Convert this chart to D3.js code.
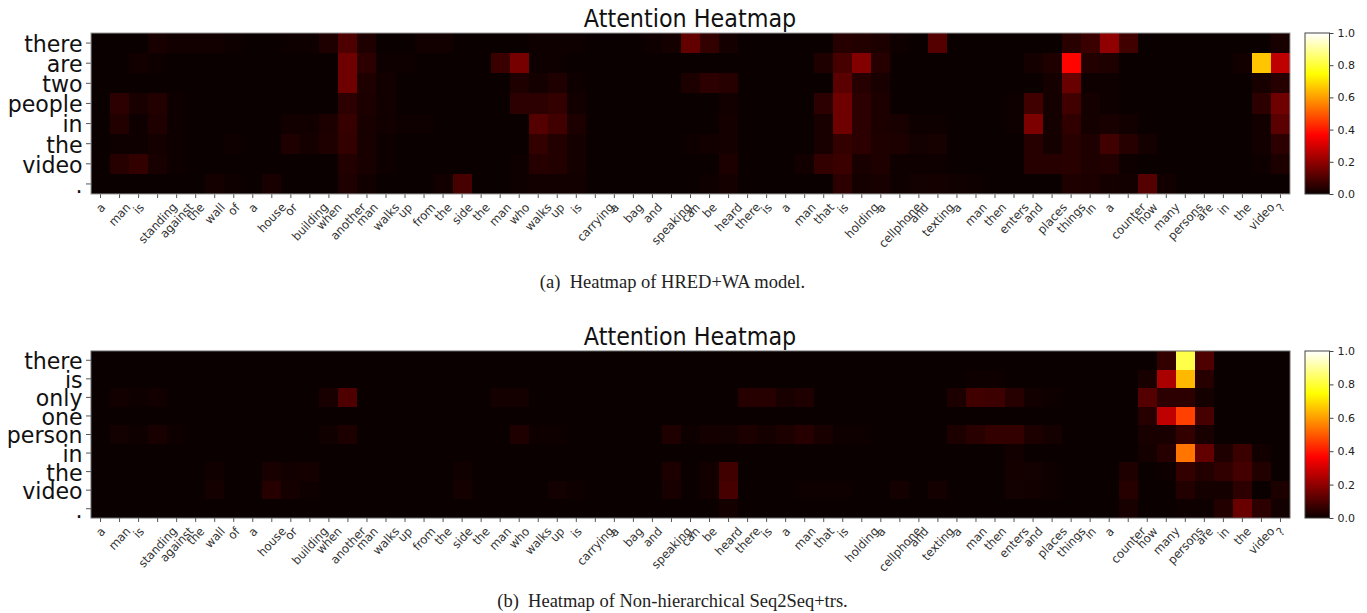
<!DOCTYPE html>
<html>
<head>
<meta charset="utf-8">
<script src="https://d3js.org/d3.v7.min.js"></script>
<style>
body { margin: 0; background: #fff; }
text { font-family: "DejaVu Sans", sans-serif; }
</style>
</head>
<body>
<script>
//Input tokens along the x axis (both panels)
var tokens = ["a","man","is","standing","against","the","wall","of","a","house","or","building","when","another","man","walks","up","from","the","side","the","man","who","walks","up","is","carrying","a","bag","and","speaking","can","be","heard","there","is","a","man","that","is","holding","a","cellphone","and","texting","a","man","then","enters","and","places","things","in","a","counter","how","many","persons","are","in","the","video","?"];

//Output words along the y axis
var wordsA = ["there","are","two","people","in","the","video","."];
var wordsB = ["there","is","only","one","person","in","the","video","."];

var colorTicks = [0, 0.2, 0.4, 0.6, 0.8, 1];

//Attention values, one row per output word
var heatA = [
 [0,0,0,.02,.01,.01,.01,.005,0,0, .005,.005,.03,.1,.03,0,0,.01,.01,0, 0,0,0,.005,.005,.005,0,0,0,.005, .015,.13,.06,.015,0,0,0,0,0,.04, .035,.025,.005,0,.11,0,0,0,0,0, 0,.045,.07,.2,.08,0,0,0,0,0, 0,0,.02],
 [0,0,.01,.005,0,0,0,0,0,0, 0,0,0,.15,.05,.005,.005,0,0,0, 0,.07,.16,.005,.005,0,0,0,0,0, 0,0,0,0,0,0,0,0,.03,.09, .18,.04,0,0,0,0,0,0,0,.015, .03,.37,.035,.03,0,0,0,0,0,0, .01,.66,.27],
 [0,0,0,0,0,0,0,0,0,0, 0,0,0,.15,.03,.01,0,0,0,0, 0,0,.03,.015,.03,.005,0,0,0,0, 0,.025,.05,.04,0,0,0,0,0,.12, .04,.02,0,0,0,0,0,0,0,0, .015,.14,.005,.005,0,0,0,0,0,0, 0,.02,.04],
 [0,.05,.02,.035,.005,0,0,0,0,0, 0,0,0,.05,.025,.01,0,0,0,0, 0,0,.05,.05,.06,.01,0,0,0,0, 0,0,0,.01,0,0,0,0,.05,.15, .05,.025,0,0,0,0,0,0,.005,.08, .015,.08,.015,.005,0,0,0,0,0,0, 0,.05,.15],
 [0,.035,.005,.03,.005,0,0,0,0,0, .01,.01,.025,.065,.02,.01,.005,.005,0,0, 0,0,0,.11,.08,.025,0,0,0,0, 0,0,0,.015,0,0,0,0,.02,.15, .05,.025,.02,.006,.006,0,0,0,.005,.17, .015,.055,.015,.02,.01,0,0,0,0,0, 0,.01,.12],
 [0,.005,.005,.015,.005,0,0,.005,0,0, .03,.015,.03,.06,.02,.005,0,0,0,0, 0,0,0,.06,.035,.015,0,0,0,0, 0,.005,.01,.015,0,0,0,0,.02,.06, .05,.03,.025,.012,.018,0,0,0,0,.04, .015,.045,.03,.08,.04,.015,0,0,0,0, 0,.01,.05],
 [0,.04,.06,.02,.005,0,0,0,0,0, 0,0,0,.035,.02,.005,0,0,0,0, 0,0,.005,.04,.035,.015,0,0,0,0, 0,0,0,.025,0,0,0,.01,.06,.07, .02,.03,.005,.005,.005,0,0,0,0,.04, .04,.045,.03,.035,.005,0,0,0,0,0, 0,.005,.025],
 [0,0,0,0,0,0,.015,.005,0,.02, 0,0,0,.03,.01,0,0,0,.01,.09, 0,0,.005,.01,.01,.01,0,0,0,0, 0,0,.005,.015,0,0,0,0,0,.05, .015,.02,.005,.012,.015,.008,.005,0,0,0, 0,.03,.025,.015,.01,.11,.01,0,0,0, 0,0,0]
];

var heatB = [
 [0,0,0,0,0,0,0,0,0,0, 0,0,0,0,0,0,0,0,0,0, 0,0,0,0,0,0,0,0,0,0, 0,0,0,0,0,0,0,0,0,0, 0,0,0,0,0,0,0,0,0,0, 0,0,0,0,0,0,.06,.82,.1,0, 0,0,0],
 [0,0,0,0,0,0,0,0,0,0, 0,0,0,0,0,0,0,0,0,0, 0,0,0,0,0,0,0,0,0,0, 0,0,0,0,0,0,0,0,0,0, 0,0,0,0,0,0,.005,.005,0,0, 0,0,0,0,0,.02,.24,.64,.04,0, 0,0,0],
 [0,.01,.005,.01,0,0,0,0,0,0, 0,0,.02,.1,0,0,0,0,0,0, 0,.015,.015,0,0,0,0,0,0,0, 0,0,0,0,.04,.04,.02,.03,0,0, 0,0,0,0,0,.025,.08,.075,.04,.01, .005,0,0,0,0,.11,.05,.05,.015,0, 0,0,0],
 [0,0,0,0,0,0,0,0,0,0, 0,0,0,0,0,0,0,0,0,0, 0,0,0,0,0,0,0,0,0,0, 0,0,0,0,0,0,0,0,0,0, 0,0,0,0,0,0,0,0,0,0, 0,0,0,0,0,.04,.27,.46,.09,0, 0,0,0],
 [0,.012,.005,.02,.005,0,0,0,0,0, 0,0,.008,.025,0,0,0,0,0,0, 0,0,.03,.005,.005,0,0,0,0,0, .03,.005,.015,.012,.025,.015,.025,.04,.02,.005, .005,0,0,0,0,.025,.045,.06,.06,.025, .015,0,0,0,0,.02,.02,.06,.02,0, 0,0,0],
 [0,0,0,0,0,0,0,0,0,0, 0,0,0,0,0,0,0,0,0,0, 0,0,0,0,0,0,0,0,0,0, 0,0,0,0,0,0,0,0,0,0, 0,0,0,0,0,0,0,0,.01,0, 0,0,0,0,0,.015,.04,.54,.13,.03, .07,.01,0],
 [0,0,0,0,0,0,.008,0,0,.02, .01,.015,0,0,0,0,0,0,0,.008, 0,0,0,0,0,0,0,0,0,0, .025,0,.01,.08,0,0,0,0,0,0, 0,0,0,0,0,0,0,0,.015,.012, .005,0,0,0,.03,0,.005,.06,.035,.055, .085,.035,0],
 [0,0,0,0,0,0,.015,0,0,.04, .015,.005,0,0,0,0,0,0,0,.015, 0,0,0,0,.012,.006,0,0,0,0, .02,0,.01,.09,0,0,0,.005,.005,.005, 0,0,.015,0,.015,0,0,0,.012,.01, .005,0,0,0,.04,0,0,.035,.015,.015, .05,0,.025],
 [0,0,0,0,0,0,0,0,0,0, 0,0,0,0,0,0,0,0,0,0, 0,0,0,0,0,0,0,0,0,0, 0,0,0,.015,0,0,0,0,0,0, 0,0,0,0,0,0,0,0,0,0, 0,0,0,0,.02,0,0,.005,.005,.035, .14,.05,.012]
];

//Matplotlib "hot" colormap
var hot = d3.scaleLinear()
    .domain([0, 0.365, 0.746, 1])
    .range(["#0b0000", "#ff0000", "#ffff00", "#ffffff"])
    .clamp(true);

var svg = d3.select("body").append("svg")
    .attr("width", 1367)
    .attr("height", 613);

//Gradient for the colorbars
var grad = svg.append("defs").append("linearGradient")
    .attr("id", "hotGrad")
    .attr("x1", 0).attr("y1", 1).attr("x2", 0).attr("y2", 0);
hot.domain().forEach(function(d) {
    grad.append("stop").attr("offset", d).attr("stop-color", hot(d));
});

function drawPanel(words, heat, top, bottom, captionText, captionY, frameColor) {
    var x = d3.scaleBand().domain(d3.range(tokens.length)).range([91, 1290]);
    var y = d3.scaleBand().domain(d3.range(words.length)).range([top, bottom]);
    var c = d3.scaleLinear().domain([0, 1]).range([bottom, top]);

    //Title, the source picture is stretched a little in height
    svg.append("text")
        .attr("transform", `translate(690, ${top - 6}) scale(0.93, 1)`)
        .attr("text-anchor", "middle")
        .attr("font-size", 24)
        .attr("fill", "#111")
        .text("Attention Heatmap");

    //Cells
    svg.append("rect")
        .attr("x", 91).attr("y", top)
        .attr("width", 1199).attr("height", bottom - top)
        .attr("fill", hot(0));
    svg.append("g").selectAll("g")
        .data(heat)
        .enter().append("g")
        .attr("transform", (d, i) => `translate(0, ${y(i)})`)
        .selectAll("rect")
        .data(d => d)
        .enter().append("rect")
        .attr("x", (d, i) => x(i))
        .attr("width", x.bandwidth())
        .attr("height", y.bandwidth())
        .attr("shape-rendering", "crispEdges")
        .attr("fill", d => hot(d));

    //Axes
    var xAxis = svg.append("g")
        .attr("transform", `translate(0, ${bottom})`)
        .call(d3.axisBottom(x).tickSize(4).tickFormat(i => tokens[i]));
    var yAxis = svg.append("g")
        .attr("transform", "translate(91, 0)")
        .call(d3.axisLeft(y).tickSize(5).tickPadding(4).tickFormat(i => words[i]));

    xAxis.selectAll(".tick line").attr("stroke", "#555");
    yAxis.selectAll(".tick line").attr("stroke", "#555");
    xAxis.select(".domain").remove();
    yAxis.select(".domain").remove();

    yAxis.selectAll("text")
        .attr("font-size", 23.5)
        .attr("fill", "#111")
        .attr("dy", "0.38em")
        .attr("transform", "scale(0.94, 1)");

    //Rotated labels, centred under the tick with the top of the box just below it
    xAxis.selectAll("text")
        .attr("font-size", 12)
        .attr("fill", "#333")
        .attr("y", 0)
        .attr("dy", "0.35em")
        .attr("transform", function() {
            var w = this.getComputedTextLength();
            var half = (w * 0.96 + 11) * Math.SQRT1_2 / 2;
            return `translate(0, ${7.5 + half}) rotate(-47) scale(0.96, 1)`;
        });

    //Frame
    svg.append("rect")
        .attr("x", 91).attr("y", top)
        .attr("width", 1199).attr("height", bottom - top)
        .attr("fill", "none")
        .attr("stroke", frameColor);

    //Colorbar
    svg.append("rect")
        .attr("x", 1305).attr("y", top)
        .attr("width", 24.5).attr("height", bottom - top)
        .attr("fill", "url(#hotGrad)")
        .attr("stroke", "#444");
    var cAxis = svg.append("g")
        .attr("transform", "translate(1329.5, 0)")
        .call(d3.axisRight(c).tickValues(colorTicks).tickSize(4).tickPadding(4).tickFormat(d3.format(".1f")));
    cAxis.select(".domain").remove();
    cAxis.selectAll(".tick line").attr("stroke", "#444");
    cAxis.selectAll("text").attr("font-size", 11).attr("fill", "#222");

    //Caption
    svg.append("text")
        .attr("x", 672.5)
        .attr("y", captionY)
        .attr("text-anchor", "middle")
        .style("font-family", "'Liberation Serif', serif")
        .style("white-space", "pre")
        .attr("font-size", 18.5)
        .attr("fill", "#222")
        .text(captionText);
}

drawPanel(wordsA, heatA, 33, 194, "(a)  Heatmap of HRED+WA model.", 288, "#999");
drawPanel(wordsB, heatB, 351, 518, "(b)  Heatmap of Non-hierarchical Seq2Seq+trs.", 607, "#666");
</script>
</body>
</html>
